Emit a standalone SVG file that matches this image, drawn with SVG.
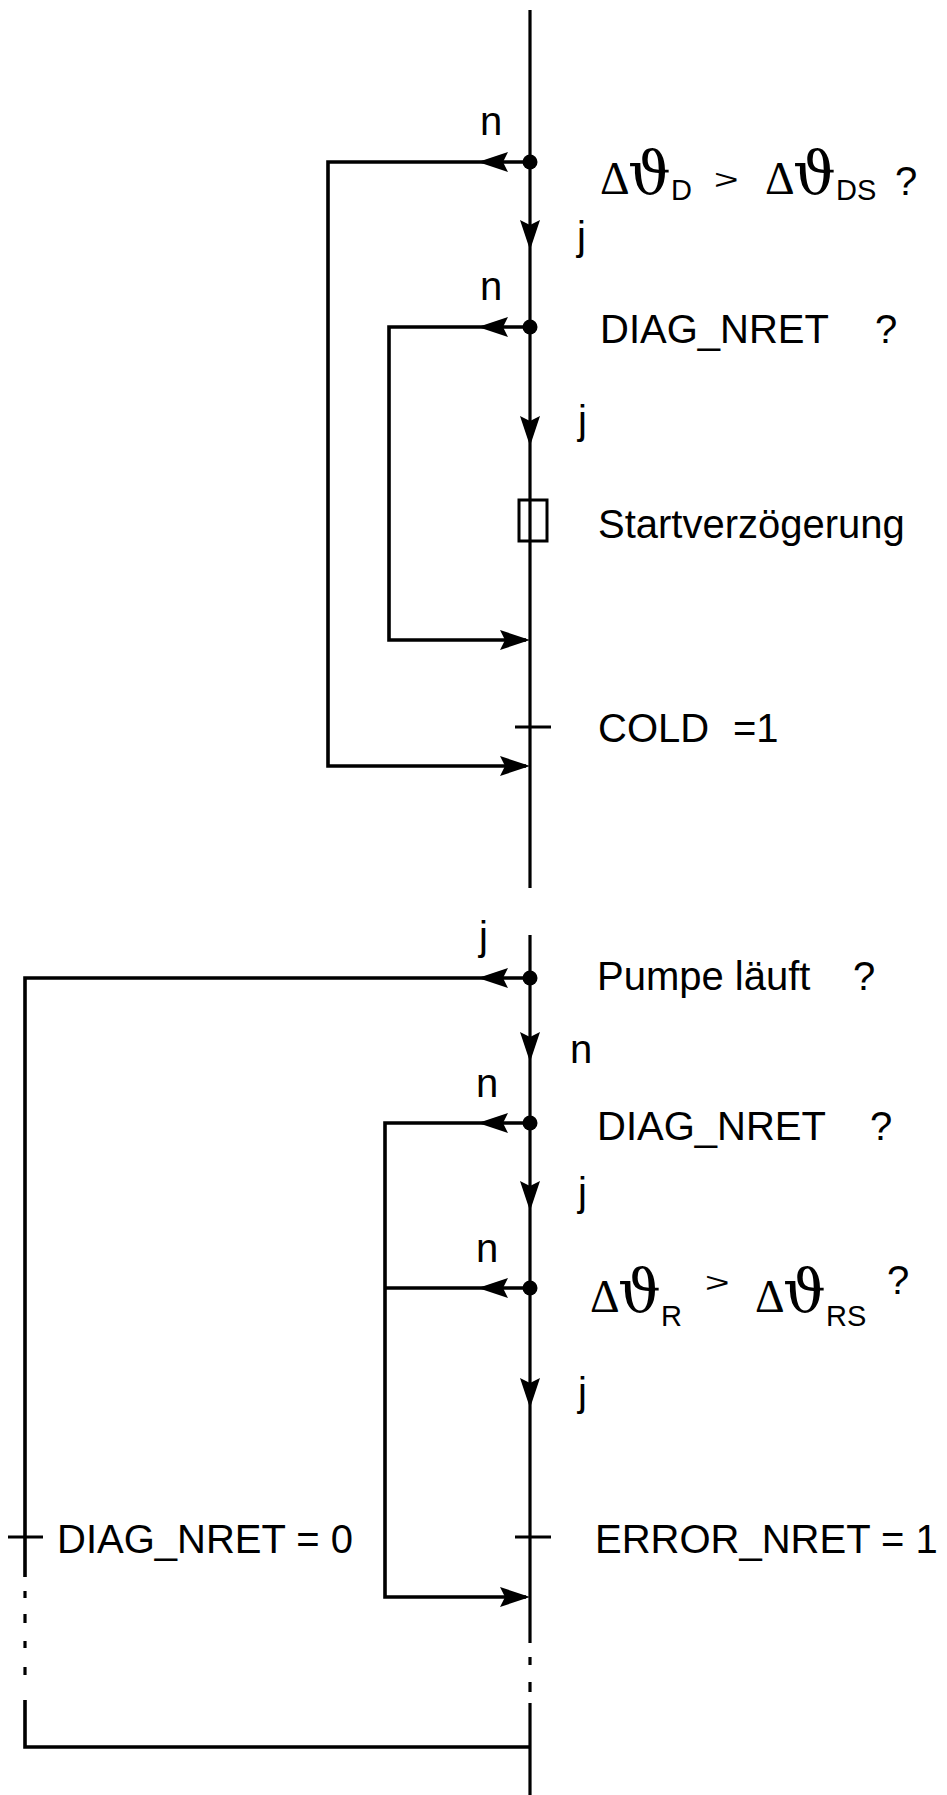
<svg xmlns="http://www.w3.org/2000/svg" width="947" height="1795" viewBox="0 0 947 1795">
<style>
.ln{fill:none;stroke:#000;stroke-width:3.6}
.main{fill:none;stroke:#000;stroke-width:3.2}
.t{font-family:"Liberation Sans",Arial,sans-serif;font-size:40px;fill:#000}
.dl{font-family:"Liberation Serif","DejaVu Serif",serif;font-size:46px}
.th{font-family:"DejaVu Serif",serif;font-size:60px}
.sub{font-family:"Liberation Sans",Arial,sans-serif;font-size:29px}
.ah{fill:#000}
.dot{fill:#000}
</style>
<defs>
<path id="ah" d="M0,0 L-30,-10 L-25,0 L-30,10 Z"/>
</defs>
<rect width="947" height="1795" fill="#fff"/>
<g id="connectors">
<line class="main" x1="530" y1="10" x2="530" y2="888"/>
<path class="ln" d="M530,162 H328 V766 H526"/>
<path class="ln" d="M530,327 H389 V640 H526"/>
<use href="#ah" class="ah" transform="translate(478,162) rotate(180)"/>
<use href="#ah" class="ah" transform="translate(478,327) rotate(180)"/>
<use href="#ah" class="ah" transform="translate(530,250) rotate(90)"/>
<use href="#ah" class="ah" transform="translate(530,446) rotate(90)"/>
<use href="#ah" class="ah" transform="translate(530,640)"/>
<use href="#ah" class="ah" transform="translate(530,766)"/>
<line class="main" x1="530" y1="935" x2="530" y2="1643"/>
<line class="main" x1="530" y1="1657" x2="530" y2="1665"/>
<line class="main" x1="530" y1="1682" x2="530" y2="1692"/>
<line class="main" x1="530" y1="1703" x2="530" y2="1795"/>
<path class="ln" d="M530,978 H25 V1577"/>
<line class="main" x1="25" y1="1591" x2="25" y2="1598"/>
<line class="main" x1="25" y1="1614" x2="25" y2="1623"/>
<line class="main" x1="25" y1="1641" x2="25" y2="1648"/>
<line class="main" x1="25" y1="1667" x2="25" y2="1675"/>
<path class="ln" d="M25,1700 V1747 H530"/>
<path class="ln" d="M530,1123 H385 V1597 H526"/>
<line class="ln" x1="530" y1="1288" x2="385" y2="1288"/>
<use href="#ah" class="ah" transform="translate(478,978) rotate(180)"/>
<use href="#ah" class="ah" transform="translate(478,1123) rotate(180)"/>
<use href="#ah" class="ah" transform="translate(478,1288) rotate(180)"/>
<use href="#ah" class="ah" transform="translate(530,1062) rotate(90)"/>
<use href="#ah" class="ah" transform="translate(530,1211) rotate(90)"/>
<use href="#ah" class="ah" transform="translate(530,1408) rotate(90)"/>
<use href="#ah" class="ah" transform="translate(530,1597)"/>
<text class="t" x="480" y="135">n</text>
<text class="t" x="577" y="250">j</text>
<text class="t" x="480" y="300">n</text>
<text class="t" x="578" y="434">j</text>
<text class="t" x="479" y="950">j</text>
<text class="t" x="570" y="1063">n</text>
<text class="t" x="476" y="1097">n</text>
<text class="t" x="578" y="1206">j</text>
<text class="t" x="476" y="1262">n</text>
<text class="t" x="578" y="1406">j</text>
</g>
<g id="dec1">
<circle class="dot" cx="530" cy="162" r="7.5"/>
<text class="t"><tspan class="dl" x="600" y="194">Δ</tspan><tspan class="th" x="628" y="194">ϑ</tspan><tspan class="sub" x="671" y="200">D</tspan></text>
<text class="t" transform="translate(714,189) scale(1.05,0.7)">&gt;</text>
<text class="t"><tspan class="dl" x="765" y="194">Δ</tspan><tspan class="th" x="793" y="194">ϑ</tspan><tspan class="sub" x="836" y="200">DS</tspan><tspan x="895" y="195">?</tspan></text>
</g>
<g id="dec2">
<circle class="dot" cx="530" cy="327" r="7.5"/>
<text class="t" x="600" y="343">DIAG_NRET<tspan x="875">?</tspan></text>
</g>
<g id="startdelay">
<rect x="519" y="500" width="28" height="41" fill="none" stroke="#000" stroke-width="3"/>
<text class="t" x="598" y="538">Startverzögerung</text>
</g>
<g id="cold">
<line class="main" x1="515" y1="727" x2="551" y2="727"/>
<text class="t" x="598" y="742">COLD <tspan x="733">=1</tspan></text>
</g>
<g id="pumpe">
<circle class="dot" cx="530" cy="978" r="7.5"/>
<text class="t" x="597" y="990">Pumpe läuft <tspan x="853">?</tspan></text>
</g>
<g id="dec4">
<circle class="dot" cx="530" cy="1123" r="7.5"/>
<text class="t" x="597" y="1140">DIAG_NRET<tspan x="870">?</tspan></text>
</g>
<g id="dec5">
<circle class="dot" cx="530" cy="1288" r="7.5"/>
<text class="t"><tspan class="dl" x="590" y="1312">Δ</tspan><tspan class="th" x="618" y="1312">ϑ</tspan><tspan class="sub" x="661" y="1326">R</tspan></text>
<text class="t" transform="translate(705,1292) scale(1.05,0.7)">&gt;</text>
<text class="t"><tspan class="dl" x="755" y="1312">Δ</tspan><tspan class="th" x="783" y="1312">ϑ</tspan><tspan class="sub" x="826" y="1326">RS</tspan><tspan x="887" y="1294">?</tspan></text>
</g>
<g id="error">
<line class="main" x1="515" y1="1537" x2="551" y2="1537"/>
<text class="t" x="595" y="1553">ERROR_NRET = 1</text>
</g>
<g id="diag0">
<line class="main" x1="8" y1="1537" x2="43" y2="1537"/>
<text class="t" x="57" y="1553">DIAG_NRET = 0</text>
</g>
</svg>
